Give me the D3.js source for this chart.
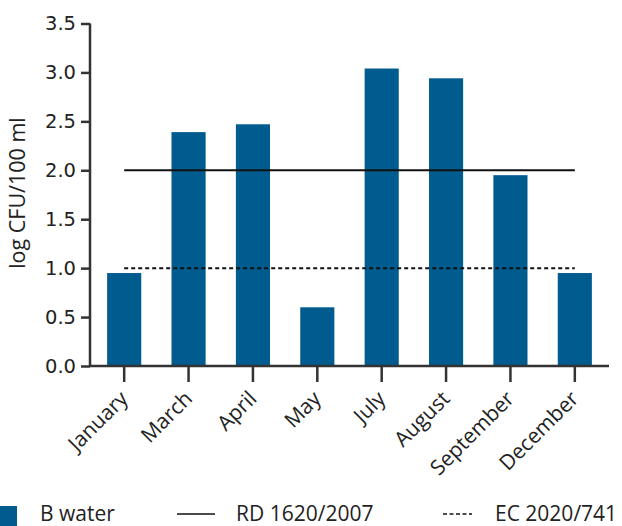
<!DOCTYPE html>
<html>
<head>
<meta charset="utf-8">
<script src="https://cdn.jsdelivr.net/npm/d3@7"></script>
<style>
  html, body { margin: 0; padding: 0; background: #fff; }
  svg { display: block; font-family: "Open Sans", "Noto Sans", sans-serif; }
</style>
</head>
<body>
<svg id="chart" width="622" height="526"></svg>
<script>
// Monthly counts, log CFU/100 ml
const months = ["January", "March", "April", "May", "July", "August", "September", "December"];
const bWater = [0.95, 2.39, 2.47, 0.6, 3.04, 2.94, 1.95, 0.95];
const yTicks = [0, 0.5, 1, 1.5, 2, 2.5, 3, 3.5];
// Regulatory limits
const rdLimit = 2.0;   // RD 1620/2007
const ecLimit = 1.0;   // EC 2020/741
const legendLabels = ["B water", "RD 1620/2007", "EC 2020/741"];

const barColor = "#005b8e";
const axisColor = "#333333";
const textColor = "#222222";

const svg = d3.select("#chart");
const plotLeft = 90, plotRight = 609, plotTop = 23.5, plotBottom = 366;

const x = d3.scaleBand().domain(months).range([plotLeft, plotRight])
  .paddingInner(0.47).paddingOuter(0.266);
const y = d3.scaleLinear().domain([0, 3.5]).range([plotBottom, plotTop]);

// Bars
svg.append("g").selectAll("rect").data(bWater).join("rect")
  .attr("x", (d, i) => x(months[i]))
  .attr("y", d => y(d))
  .attr("width", x.bandwidth())
  .attr("height", d => y(0) - y(d))
  .attr("fill", barColor);

// Limit lines, from first to last category centre
const x0 = x(months[0]) + x.bandwidth() / 2;
const x1 = x(months[months.length - 1]) + x.bandwidth() / 2;
svg.append("line")
  .attr("x1", x0).attr("x2", x1)
  .attr("y1", y(rdLimit)).attr("y2", y(rdLimit))
  .attr("stroke", "#111").attr("stroke-width", 2);
svg.append("line")
  .attr("x1", x0).attr("x2", x1)
  .attr("y1", y(ecLimit)).attr("y2", y(ecLimit))
  .attr("stroke", "#111").attr("stroke-width", 2)
  .attr("stroke-dasharray", "4,3");

// Y axis
const yAxis = svg.append("g")
  .attr("transform", `translate(${plotLeft},0)`)
  .call(d3.axisLeft(y).tickValues(yTicks).tickFormat(d3.format(".1f"))
    .tickSize(9).tickPadding(5));
yAxis.select(".domain").attr("stroke", axisColor).attr("stroke-width", 2.5)
  .attr("d", `M0,${plotTop}V${plotBottom}`);
yAxis.selectAll(".tick line").attr("stroke", axisColor).attr("stroke-width", 2.5);
yAxis.selectAll(".tick text").attr("font-size", 19.5).attr("fill", textColor)
  .attr("font-family", "'DejaVu Sans', sans-serif");

// X axis
const xAxis = svg.append("g")
  .attr("transform", `translate(0,${plotBottom})`)
  .call(d3.axisBottom(x).tickSize(16).tickPadding(0));
xAxis.select(".domain").attr("stroke", axisColor).attr("stroke-width", 2.5)
  .attr("d", `M${plotLeft},0H${plotRight}`);
xAxis.selectAll(".tick line").attr("stroke", axisColor).attr("stroke-width", 2.5);
xAxis.selectAll(".tick text")
  .attr("font-size", 21).attr("fill", textColor)
  .attr("font-family", "'Open Sans', sans-serif")
  .attr("text-anchor", "end")
  .attr("x", 0).attr("y", 0).attr("dy", 0)
  .attr("transform", "translate(5,34) rotate(-45)");

// Y axis title
svg.append("text")
  .attr("transform", "translate(25,193) rotate(-90)")
  .attr("text-anchor", "middle")
  .attr("font-size", 21.5).attr("fill", textColor)
  .text("log CFU/100 ml");

// Legend
const lg = svg.append("g").attr("font-size", 21).attr("fill", textColor);
lg.append("rect").attr("x", 0).attr("y", 506).attr("width", 17).attr("height", 20).attr("fill", barColor);
lg.append("text").attr("x", 40).attr("y", 521).text(legendLabels[0]);
lg.append("line").attr("x1", 177).attr("x2", 215).attr("y1", 514).attr("y2", 514)
  .attr("stroke", "#111").attr("stroke-width", 1.5);
lg.append("text").attr("x", 236).attr("y", 521).text(legendLabels[1]);
lg.append("line").attr("x1", 443).attr("x2", 472).attr("y1", 514).attr("y2", 514)
  .attr("stroke", "#111").attr("stroke-width", 1.5).attr("stroke-dasharray", "4,2.5");
lg.append("text").attr("x", 495).attr("y", 521).text(legendLabels[2]);
</script>
</body>
</html>
